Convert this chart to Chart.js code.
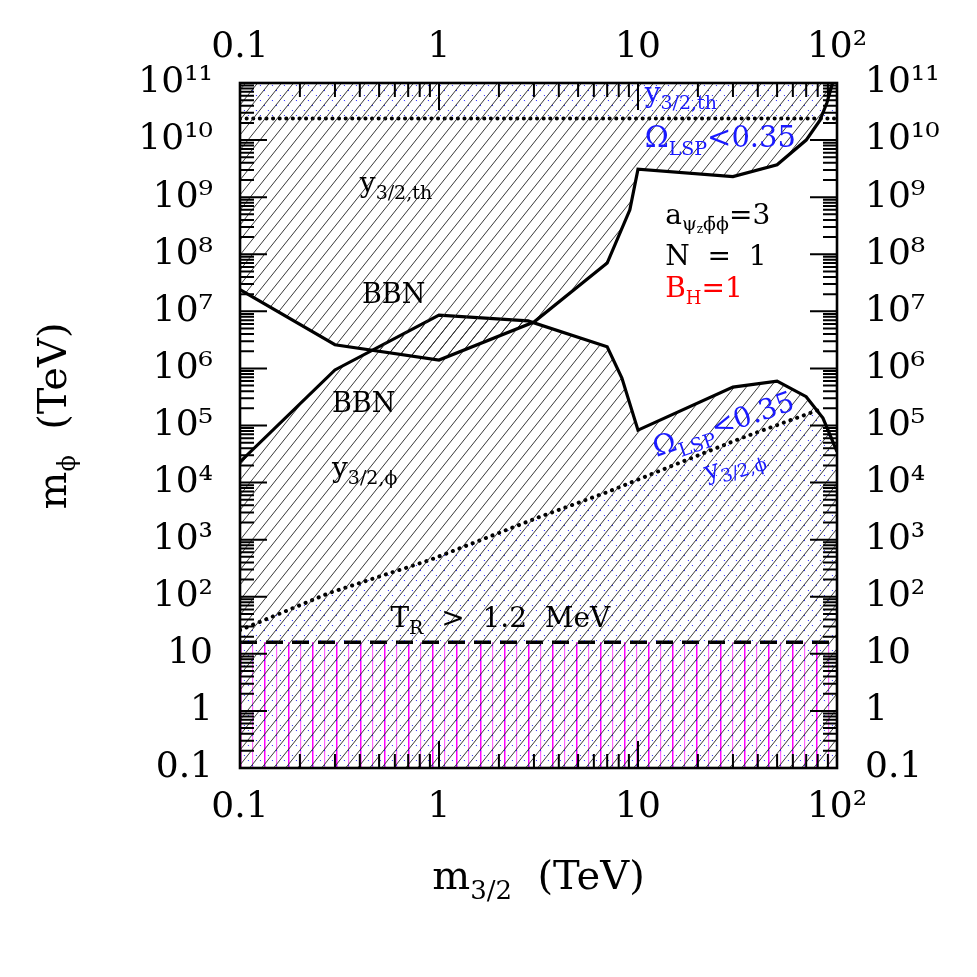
<!DOCTYPE html>
<html lang="en">
<head>
<meta charset="UTF-8" />
<title>m_phi vs m_3/2</title>
<script src="https://cdn.jsdelivr.net/npm/chart.js@4.4.0/dist/chart.umd.min.js"></script>
<style>
  body { margin: 0; background: #fff; }
</style>
</head>
<body>
<canvas id="grafico" width="977" height="977"></canvas>

<script>
// upper BBN / y_3/2,th boundary (hatched above)
const bbnTopX = [0.1, 0.3, 1, 3, 7, 9.1, 10, 30, 50, 70, 82, 89, 95];
const bbnTopY = [2.4e7, 2.6e6, 1.4e6, 6.5e6, 7e7, 6e8, 3.1e9, 2.3e9, 3.7e9, 1e10, 2.2e10, 4.5e10, 1e11];
// lower BBN / y_3/2,phi boundary (hatched below)
const bbnLowX = [0.1, 0.3, 1, 2.8, 7, 8.3, 10, 30, 50, 70, 85, 100];
const bbnLowY = [2.3e4, 9.4e5, 8.6e6, 6.8e6, 2.4e6, 6.8e5, 8.3e4, 4.7e5, 6e5, 3.2e5, 1.35e5, 3.5e4];
// Omega_LSP < 0.35 from y_3/2,phi (dotted)
const omegaX = [0.1, 0.28, 0.9, 3.2, 7, 15, 33, 80];
const omegaY = [26, 116, 440, 2500, 6800, 2.0e4, 6e4, 1.85e5];
// horizontal bounds
const omegaThY = 2.4e10;   // Omega_LSP < 0.35 from y_3/2,th
const trMinY = 16;         // T_R > 1.2 MeV
const xRange = [0.1, 100];
const yRange = [0.1, 1e11];

const xTicks = [0.1, 1, 10, 100];
const xTickLabels = ['0.1', '1', '10', '10²'];
const yTicks = [0.1, 1, 10, 1e2, 1e3, 1e4, 1e5, 1e6, 1e7, 1e8, 1e9, 1e10, 1e11];
const yTickLabels = ['0.1', '1', '10', '10²', '10³', '10⁴', '10⁵', '10⁶', '10⁷', '10⁸', '10⁹', '10¹⁰', '10¹¹'];

const FONT = '"DejaVu Serif", serif';

function pts(xs, ys) {
  return xs.map((x, i) => ({ x: x, y: ys[i] }));
}

// hatch patterns
function hatch(kind) {
  const c = document.createElement('canvas');
  const w = kind === 'vert' ? 24 : 12, h = kind === 'vert' ? 4 : 15;
  c.width = w; c.height = h;
  const g = c.getContext('2d');
  if (kind === 'slash') {
    g.strokeStyle = '#222'; g.lineWidth = 0.9;
    for (let k = -1; k <= 1; k++) {
      g.beginPath(); g.moveTo(-1, k * h + h + h / w); g.lineTo(w + 1, k * h - h / w); g.stroke();
    }
  } else if (kind === 'dots') {
    g.strokeStyle = '#2b2bff'; g.lineWidth = 1;
    const L = Math.hypot(w, h);
    g.setLineDash([1.4, L / 3 - 1.4]);
    for (let k = -1; k <= 1; k++) {
      g.beginPath(); g.moveTo(0, k * h); g.lineTo(w, k * h + h); g.stroke();
    }
  } else {
    g.fillStyle = '#ff00ff'; g.fillRect(0, 0, 1.5, h);
    g.fillStyle = '#ff66ff'; g.fillRect(12, 0, 1.2, h);
  }
  return g.createPattern(c, 'repeat');
}

const blackHatch = hatch('slash');
const blueHatch = hatch('dots');
const pinkHatch = hatch('vert');

const omegaPts = pts(omegaX, omegaY);
const omegaFillPts = omegaPts.concat(pts(bbnLowX, bbnLowY).filter(p => p.x > omegaX[omegaX.length - 1]));

// text notes, [text, size, dy]
const notes = [
  { x: 0.40, y: 1.23e9, color: '#000', parts: [['y', 28, 0], ['3/2,th', 19, 7]] },
  { x: 0.41, y: 1.4e7, color: '#000', parts: [['BBN', 27, 0]] },
  { x: 0.29, y: 1.73e5, color: '#000', parts: [['BBN', 27, 0]] },
  { x: 0.29, y: 1.25e4, color: '#000', parts: [['y', 28, 0], ['3/2,ϕ', 19, 7]] },
  { x: 0.57, y: 29.5, color: '#000', parts: [['T', 28, 0], ['R', 19, 7], ['  >  1.2  MeV', 28, 0]] },
  { x: 13.7, y: 3.4e8, color: '#000', parts: [['a', 28, 0], ['ψ', 19, 6], ['z', 12, 9], ['ϕ̄ϕ', 19, 6], ['=3', 28, 0]] },
  { x: 13.7, y: 6.5e7, color: '#000', parts: [['N  =  1', 28, 0]] },
  { x: 13.7, y: 1.8e7, color: '#ff0000', parts: [['B', 28, 0], ['H', 18, 7], ['=1', 28, 0]] },
  { x: 10.8, y: 4.7e10, color: '#1a1aff', parts: [['y', 28, 0], ['3/2,th', 19, 7]] },
  { x: 10.8, y: 7.6e9, color: '#1a1aff', parts: [['Ω', 29, 0], ['LSP', 19, 8], ['<0.35', 29, 0]] },
  { x: 12.4, y: 2.8e4, color: '#1a1aff', angle: -19, parts: [['Ω', 28, 0], ['LSP', 19, 8], ['<0.35', 28, 0]] },
  { x: 22.2, y: 1.1e4, color: '#1a1aff', angle: -17, parts: [['y', 26, 0], ['3/2,ϕ', 18, 7]] },
];

function drawRich(ctx, x0, y0, parts, color, angle, center) {
  ctx.save();
  ctx.translate(x0, y0);
  ctx.rotate((angle || 0) * Math.PI / 180);
  ctx.fillStyle = color;
  ctx.textBaseline = 'alphabetic';
  ctx.textAlign = 'left';
  let total = 0;
  parts.forEach(p => { ctx.font = p[1] + 'px ' + FONT; total += ctx.measureText(p[0]).width; });
  let cx = center ? -total / 2 : 0;
  parts.forEach(p => {
    ctx.font = p[1] + 'px ' + FONT;
    ctx.fillText(p[0], cx, p[2]);
    cx += ctx.measureText(p[0]).width;
  });
  ctx.restore();
}

const decorPlugin = {
  id: 'decor',
  afterDatasetsDraw(chart) {
    const ctx = chart.ctx, a = chart.chartArea;
    const sx = chart.scales.x, sy = chart.scales.y;
    ctx.save();
    ctx.strokeStyle = '#000';
    ctx.lineWidth = 2;
    ctx.beginPath();
    for (let e = -1; e < 2; e++) {
      for (let m = 1; m < 10; m++) {
        const px = sx.getPixelForValue(m * Math.pow(10, e));
        const len = m === 1 ? 27 : 14;
        ctx.moveTo(px, a.bottom); ctx.lineTo(px, a.bottom - len);
        ctx.moveTo(px, a.top); ctx.lineTo(px, a.top + len);
      }
    }
    for (let e = -1; e < 11; e++) {
      for (let m = 1; m < 10; m++) {
        const py = sy.getPixelForValue(m * Math.pow(10, e));
        const len = m === 1 ? 27 : 14;
        ctx.moveTo(a.left, py); ctx.lineTo(a.left + len, py);
        ctx.moveTo(a.right, py); ctx.lineTo(a.right - len, py);
      }
    }
    ctx.stroke();
    ctx.lineWidth = 2.6;
    ctx.strokeRect(a.left, a.top, a.right - a.left, a.bottom - a.top);
    ctx.restore();

    notes.forEach(n => {
      drawRich(ctx, sx.getPixelForValue(n.x), sy.getPixelForValue(n.y), n.parts, n.color, n.angle, false);
    });

    // axis titles
    drawRich(ctx, (a.left + a.right) / 2, 889,
      [['m', 40, 0], ['3/2', 26, 10], ['  (TeV)', 40, 0]], '#000', 0, true);
    drawRich(ctx, 66, 416,
      [['m', 40, 0], ['ϕ', 24, 9], ['  (TeV)', 40, 0]], '#000', -90, true);
  }
};

const lineBase = { pointRadius: 0, tension: 0, borderColor: '#000' };

const grafico = new Chart('grafico', {
  type: 'line',
  data: {
    datasets: [
      Object.assign({}, lineBase, { label: 'BBN upper', data: pts(bbnTopX, bbnTopY), borderWidth: 3.2, fill: 'end', backgroundColor: blackHatch }),
      Object.assign({}, lineBase, { label: 'BBN lower', data: pts(bbnLowX, bbnLowY), borderWidth: 3.2, fill: 'start', backgroundColor: blackHatch }),
      Object.assign({}, lineBase, { label: 'Omega phi', data: omegaPts, borderWidth: 4, borderDash: [0.1, 7], borderCapStyle: 'round', fill: false }),
      Object.assign({}, lineBase, { label: 'Omega phi fill', data: omegaFillPts, borderWidth: 0, borderColor: 'rgba(0,0,0,0)', fill: 'start', backgroundColor: blueHatch }),
      Object.assign({}, lineBase, { label: 'Omega th', data: pts(xRange, [omegaThY, omegaThY]), borderWidth: 4, borderDash: [0.1, 6.5], borderCapStyle: 'round', fill: 'end', backgroundColor: blueHatch }),
      Object.assign({}, lineBase, { label: 'T_R', data: pts(xRange, [trMinY, trMinY]), borderWidth: 3.6, borderDash: [17, 9], fill: 'start', backgroundColor: pinkHatch }),
    ]
  },
  options: {
    responsive: false,
    devicePixelRatio: 1,
    animation: false,
    layout: { padding: 0 },
    plugins: { legend: { display: false }, tooltip: { enabled: false } },
    scales: {
      x: {
        type: 'logarithmic', position: 'bottom', min: xRange[0], max: xRange[1],
        afterBuildTicks: s => { s.ticks = xTicks.map(v => ({ value: v })); },
        afterFit: s => { s.height = 209; },
        grid: { display: false, drawTicks: false }, border: { display: false },
        ticks: { autoSkip: false, maxRotation: 0, padding: 18, color: '#000', font: { family: FONT, size: 36 },
          callback: v => xTickLabels[xTicks.indexOf(v)] }
      },
      x2: {
        type: 'logarithmic', axis: 'x', position: 'top', min: xRange[0], max: xRange[1],
        afterBuildTicks: s => { s.ticks = xTicks.map(v => ({ value: v })); },
        afterFit: s => { s.height = 83; },
        grid: { display: false, drawTicks: false }, border: { display: false },
        ticks: { autoSkip: false, maxRotation: 0, padding: 14, color: '#000', font: { family: FONT, size: 36 },
          callback: v => xTickLabels[xTicks.indexOf(v)] }
      },
      y: {
        type: 'logarithmic', position: 'left', min: yRange[0], max: yRange[1],
        afterBuildTicks: s => { s.ticks = yTicks.map(v => ({ value: v })); },
        afterFit: s => { s.width = 240; },
        grid: { display: false, drawTicks: false }, border: { display: false },
        ticks: { autoSkip: false, padding: 27, color: '#000', font: { family: FONT, size: 36 },
          callback: v => yTickLabels[yTicks.indexOf(v)] }
      },
      y2: {
        type: 'logarithmic', axis: 'y', position: 'right', min: yRange[0], max: yRange[1],
        afterBuildTicks: s => { s.ticks = yTicks.map(v => ({ value: v })); },
        afterFit: s => { s.width = 140; },
        grid: { display: false, drawTicks: false }, border: { display: false },
        ticks: { autoSkip: false, padding: 28, color: '#000', font: { family: FONT, size: 36 },
          callback: v => yTickLabels[yTicks.indexOf(v)] }
      }
    }
  },
  plugins: [decorPlugin]
});
</script>
</body>
</html>
